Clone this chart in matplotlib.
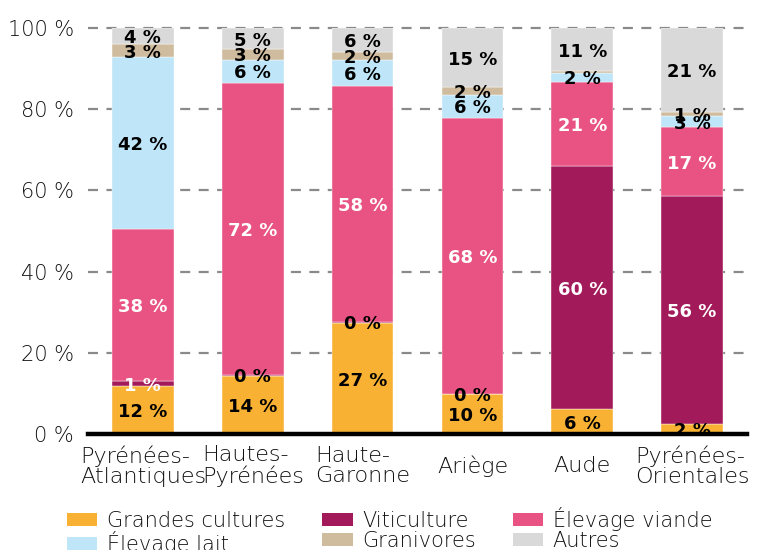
import matplotlib
matplotlib.use("Agg")
import matplotlib.pyplot as plt
from matplotlib.patches import Patch
import numpy as np

plt.rcParams['font.family'] = ['DejaVu Sans']

departements = ["Pyrénées-\nAtlantiques", "Hautes-\nPyrénées", "Haute-\nGaronne",
                "Ariège", "Aude", "Pyrénées-\nOrientales"]
series_names = ["Grandes cultures", "Viticulture", "Élevage viande",
                "Élevage lait", "Granivores", "Autres"]
grandes_cultures = [11.7, 14.4, 27.3, 9.8, 6.1, 2.4]
viticulture      = [1.4, 0.2, 0.4, 0.1, 59.9, 56.2]
elevage_viande   = [37.5, 71.8, 58.0, 68.0, 20.7, 17.0]
elevage_lait     = [42.3, 5.8, 6.3, 5.7, 2.3, 2.7]
granivores       = [3.1, 2.6, 2.2, 1.8, 0.4, 0.9]
autres           = [4.0, 5.2, 5.8, 14.6, 10.6, 20.8]
y_ticks = [0, 20, 40, 60, 80, 100]

colors = ["#F8B133", "#A31A5A", "#E85383", "#BEE5F8", "#CFBB9E", "#D9D9D9"]
label_colors = ["black", "white", "white", "black", "black", "black"]
text_color = "#111111"

data = [grandes_cultures, viticulture, elevage_viande, elevage_lait, granivores, autres]

fig = plt.figure(figsize=(7.62, 5.5), dpi=100)
ax = fig.add_axes([88/762, 1-434/550, (747-88)/762, (434-28)/550])

x = np.arange(len(departements))
bottom = np.zeros(len(departements))
for i, (name, vals) in enumerate(zip(series_names, data)):
    vals = np.array(vals)
    ax.bar(x, vals, bottom=bottom, width=0.56, color=colors[i], zorder=2,
           edgecolor='white', linewidth=0.3)
    for xi, v, b in zip(x, vals, bottom):
        r = int(round(v))
        if r == 0 and name != "Viticulture":
            continue
        col = "black" if r == 0 else label_colors[i]
        ax.text(xi, b + v/2, f"{r} %", ha='center', va='center_baseline',
                fontsize=13, fontweight='bold', color=col, zorder=4)
    bottom += vals

ax.set_xlim(-0.5, len(departements) - 0.5)
ax.set_ylim(0, 100)
ax.set_yticks(y_ticks)
ax.set_yticklabels([f"{t} %" for t in y_ticks], fontsize=15, color=text_color,
                   fontweight='light')
ax.set_xticks(x)
ax.set_xticklabels([])
for xi, lab in zip(x, departements):
    ax.annotate(lab, xy=(xi, 0), xycoords=('data', 'axes fraction'),
                xytext=(0, -32), textcoords='offset pixels',
                ha='center', va='center', multialignment='left',
                fontsize=16, linespacing=1.0, color=text_color, fontweight='light',
                annotation_clip=False)
ax.tick_params(axis='both', length=0)
ax.tick_params(axis='y', pad=10)
for s in ax.spines.values():
    s.set_visible(False)
for t in y_ticks[1:]:
    ax.axhline(t, color="#8a8a8a", lw=1.6, ls=(0, (4.5, 3.8)), zorder=1, clip_on=False)
ax.axhline(0, color="black", lw=3.2, zorder=5, clip_on=False)

handles = [Patch(facecolor=c, edgecolor='none') for c in colors]
order = [0, 3, 1, 4, 2, 5]
fig.legend([handles[k] for k in order], [series_names[k] for k in order],
           ncol=3, loc='upper left', bbox_to_anchor=(67/762, 1-507/550),
           frameon=False, prop={'weight': 'light', 'size': 15},
           handlelength=1.45, handleheight=0.58, handletextpad=0.45,
           labelspacing=0.0, columnspacing=1.8, borderpad=0, borderaxespad=0,
           labelcolor=text_color)

fig.savefig("out.png", dpi=100)
